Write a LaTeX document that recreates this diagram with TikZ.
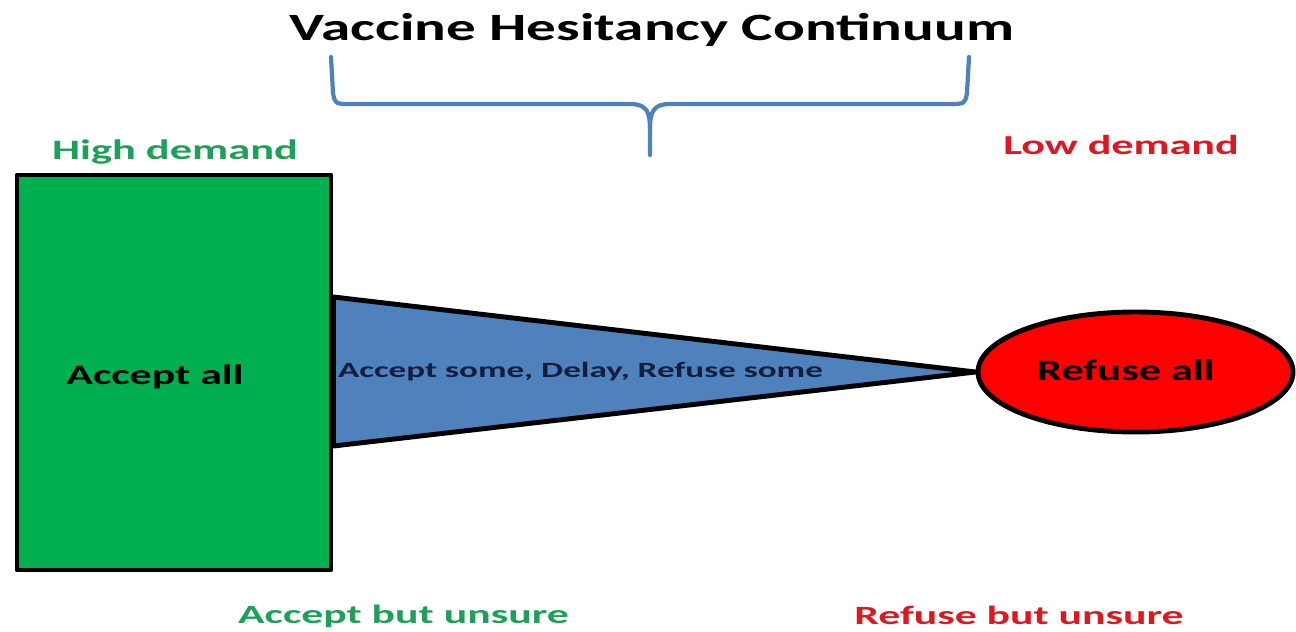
\documentclass[tikz,border=0pt]{standalone}
\usepackage{fontspec}
\setmainfont{Carlito}
\usetikzlibrary{positioning, shapes.geometric}
\definecolor{acceptgreen}{RGB}{0,176,80}
\definecolor{textgreen}{RGB}{30,160,90}
\definecolor{textred}{RGB}{220,25,35}
\definecolor{officeblue}{RGB}{79,129,189}
\definecolor{navytext}{RGB}{20,30,60}

\begin{document}
\begin{tikzpicture}[line join=round,
    caption/.style={font=\bfseries\fontsize{8}{10}\selectfont, inner sep=0pt, anchor=base},
    wide/.style={xscale=#1, transform shape},
    greenbox/.style={draw, line width=1.4pt, fill=acceptgreen, minimum width=3.14cm, minimum height=3.95cm},
    redoval/.style={ellipse, draw, line width=1.4pt, fill=red, minimum width=3.15cm, minimum height=1.2cm, inner sep=0pt},
    bracket/.style={draw=officeblue, line width=1.2pt, line cap=round}]
    \useasboundingbox (0,0) rectangle (12.96,6.31);
    % title and brace
    \node[caption, wide=1.53, font=\bfseries\fontsize{11}{13}\selectfont] (title) at (6.52,5.91) {Vaccine Hesitancy Continuum};
    \draw[bracket] (3.31,5.74) -- (3.33,5.38) .. controls (3.35,5.27) .. (3.52,5.27) -- (6.30,5.27)
        .. controls (6.46,5.27) and (6.50,5.20) .. (6.50,5.02) -- (6.50,4.76);
    \draw[bracket] (9.69,5.74) -- (9.67,5.38) .. controls (9.65,5.27) .. (9.48,5.27) -- (6.70,5.27)
        .. controls (6.54,5.27) and (6.50,5.20) .. (6.50,5.02);
    % demand labels
    \node[caption, wide=1.58, text=textgreen] (high) at (1.75,4.72) {High demand};
    \node[caption, wide=1.61, text=textred, font=\bfseries\fontsize{7.8}{9}\selectfont] (low) at (11.21,4.77) {Low demand};
    % shapes
    \node[greenbox] (acceptall) at (1.74,2.585) {};
    \node[caption, wide=1.56, text=black] (acceptlbl) at (1.55,2.47) {Accept all};
    \node[redoval] (refuseall) at (11.355,2.59) {};
    \node[caption, wide=1.5, text=black, font=\bfseries\fontsize{8.4}{10}\selectfont] (refuselbl) at (11.26,2.51) {Refuse all};
    \draw[line width=1.4pt, fill=officeblue] ([yshift=0.755cm]acceptall.east) -- (refuseall.west)
        -- ([yshift=-0.735cm]acceptall.east) -- cycle;
    \node[caption, wide=1.61, anchor=base west, text=navytext, font=\bfseries\fontsize{6.2}{8}\selectfont] (middle) at (3.37,2.54) {Accept some, Delay, Refuse some};
    % unsure labels
    \node[caption, wide=1.66, text=textgreen, font=\bfseries\fontsize{7.5}{9}\selectfont] (acceptunsure) at (4.035,0.08) {Accept but unsure};
    \node[caption, wide=1.66, text=textred, font=\bfseries\fontsize{7.5}{9}\selectfont] (refuseunsure) at (10.19,0.07) {Refuse but unsure};
\end{tikzpicture}
\end{document}
